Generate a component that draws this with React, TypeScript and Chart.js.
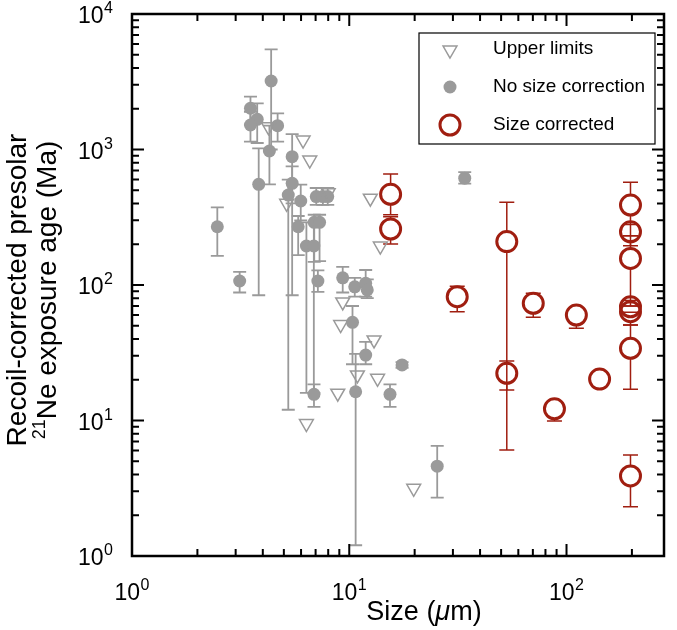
import React, { useEffect, useRef } from 'react';
import { Chart, registerables } from 'chart.js';
Chart.register(...registerables);

// ---- axes ----
const X_MIN = 1;
const X_MAX = 281;
const Y_MIN = 1;
const Y_MAX = 10000;
const X_TICKS = [1, 10, 100];
const X_TICK_EXP = ['0', '1', '2'];
const Y_TICKS = [1, 10, 100, 1000, 10000];
const Y_TICK_EXP = ['0', '1', '2', '3', '4'];
const X_TITLE_A = 'Size (';
const X_TITLE_MU = 'μ';
const X_TITLE_B = 'm)';
const Y_TITLE_1 = 'Recoil-corrected presolar';
const Y_TITLE_2_SUP = '21';
const Y_TITLE_2 = 'Ne exposure age (Ma)';
const LEGEND_LABELS = ['Upper limits', 'No size correction', 'Size corrected'];

// ---- Upper limits (open triangles) ----
const upperX = [4.25, 5.15, 6.13, 6.58, 8.0, 12.5, 13.9, 9.33, 9.13, 13.0, 10.9, 13.5, 8.85, 6.35, 19.8];
const upperY = [1470, 401, 1175, 836, 480, 437, 194, 75, 51, 39.3, 21.7, 20.5, 15.9, 9.5, 3.16];

// ---- No size correction (filled grey) ----
const nscX = [2.47, 3.13, 3.51, 3.77, 3.51, 3.83, 4.37, 4.29, 4.68, 5.46, 5.46, 5.24, 5.98, 5.82,
  6.35, 6.87, 7.05, 7.56, 7.96, 6.9, 7.3, 7.17, 9.33, 10.6, 11.9, 12.1, 10.35, 11.9, 10.7, 6.88,
  15.4, 17.5, 34, 25.4];
const nscY = [269, 107, 2015, 1670, 1517, 553, 3204, 975, 1500, 885, 563, 461, 417, 269,
  194, 194, 449, 449, 449, 290, 290, 107, 113, 97, 103, 92, 53, 30.4, 16.3, 15.6,
  15.6, 25.7, 614, 4.6];
const nscLo = [164, 88, 1520, 1117, 1143, 84, 1000, 553, 1143, 84, 400, 12, 300, 166,
  16, 16, 390, 390, 390, 148, 150, 89, 88, 82, 82, 80, 26, 26, 1.2, 12.6,
  12.6, 24.5, 560, 2.7];
const nscHi = [374, 125, 2455, 2193, 1900, 1020, 5490, 1500, 1850, 1300, 750, 600, 550, 323,
  290, 290, 520, 520, 520, 330, 330, 128, 136, 113, 129, 110, 70, 38, 31, 18.5,
  18.5, 27, 680, 6.5];

// ---- Size corrected (open red circles) ----
const scX = [15.5, 15.5, 31.4, 53.1, 53.1, 70.3, 111, 142, 88, 197, 197, 197, 197, 197, 197, 197];
const scY = [467, 259, 82, 209, 22.3, 73.3, 60, 20.2, 12.2, 389, 247, 157, 69, 63.5, 34.1, 3.9];
const scLo = [330, 201, 63.5, 6.06, 16.8, 57.8, 48, null, 9.9, 231, 195, 70, 63, 50.7, 17, 2.31];
const scHi = [659, 319, 98, 408, 27.5, 86.9, null, null, null, 573, 280, 231, 77, 70, 50.7, 5.56];

const GREY = '#9a9a9a';
const RED = '#a01e10';
const FONT = '"Liberation Sans", Arial, Helvetica, sans-serif';

function pts(xs: number[], ys: number[]) {
  return xs.map((x, i) => ({ x, y: ys[i] }));
}

const errorBarPlugin = {
  id: 'errorBars',
  beforeDatasetDraw(chart: any, args: any) {
    const ds = chart.data.datasets[args.index];
    if (!ds.errLo) return;
    const ctx = chart.ctx;
    const xs = chart.scales.x;
    const ys = chart.scales.y;
    ctx.save();
    ctx.strokeStyle = ds.errColor;
    ctx.lineWidth = ds.errWidth;
    const half = ds.capWidth / 2;
    const gap = ds.errGap;
    ds.data.forEach((p: any, i: number) => {
      const px = xs.getPixelForValue(p.x);
      const py = ys.getPixelForValue(p.y);
      const hi = ds.errHi[i];
      const lo = ds.errLo[i];
      ctx.beginPath();
      if (hi != null) {
        const ph = ys.getPixelForValue(hi);
        if (ph < py - gap) {
          ctx.moveTo(px, py - gap);
          ctx.lineTo(px, ph);
        }
        ctx.moveTo(px - half, ph);
        ctx.lineTo(px + half, ph);
      }
      if (lo != null) {
        const pl = ys.getPixelForValue(lo);
        if (pl > py + gap) {
          ctx.moveTo(px, py + gap);
          ctx.lineTo(px, pl);
        }
        ctx.moveTo(px - half, pl);
        ctx.lineTo(px + half, pl);
      }
      ctx.stroke();
    });
    ctx.restore();
  },
};

function drawPow(ctx: CanvasRenderingContext2D, exp: string, x: number, baseline: number, align: 'center' | 'right') {
  ctx.font = `23px ${FONT}`;
  const wb = ctx.measureText('10').width;
  ctx.font = `16px ${FONT}`;
  const we = ctx.measureText(exp).width;
  const total = wb + we + 0.5;
  const left = align === 'center' ? x - total / 2 : x - total;
  ctx.textAlign = 'left';
  ctx.textBaseline = 'alphabetic';
  ctx.font = `23px ${FONT}`;
  ctx.fillText('10', left, baseline);
  ctx.font = `16px ${FONT}`;
  ctx.fillText(exp, left + wb + 0.5, baseline - 10);
}

function drawTriangle(ctx: CanvasRenderingContext2D, x: number, y: number, r: number) {
  ctx.beginPath();
  for (let k = 0; k < 3; k++) {
    const a = Math.PI + (k * 2 * Math.PI) / 3;
    const vx = x + Math.sin(a) * r;
    const vy = y - Math.cos(a) * r;
    if (k === 0) ctx.moveTo(vx, vy);
    else ctx.lineTo(vx, vy);
  }
  ctx.closePath();
  ctx.stroke();
}

const framePlugin = {
  id: 'frameAxes',
  afterDraw(chart: any) {
    const ctx: CanvasRenderingContext2D = chart.ctx;
    const xs = chart.scales.x;
    const ys = chart.scales.y;
    const { left, right, top, bottom } = chart.chartArea;
    ctx.save();
    ctx.strokeStyle = '#000';
    ctx.fillStyle = '#000';
    // ticks
    ctx.lineWidth = 2;
    const MAJ = 12;
    const MIN = 7;
    ctx.beginPath();
    for (let d = 0; d <= 2; d++) {
      for (let k = 1; k <= 9; k++) {
        const v = k * Math.pow(10, d);
        if (v > X_MAX) continue;
        const px = xs.getPixelForValue(v);
        const len = k === 1 ? MAJ : MIN;
        ctx.moveTo(px, bottom);
        ctx.lineTo(px, bottom - len);
        ctx.moveTo(px, top);
        ctx.lineTo(px, top + len);
      }
    }
    for (let d = 0; d <= 3; d++) {
      for (let k = 1; k <= 9; k++) {
        const v = k * Math.pow(10, d);
        const py = ys.getPixelForValue(v);
        const len = k === 1 ? MAJ : MIN;
        ctx.moveTo(left, py);
        ctx.lineTo(left + len, py);
        ctx.moveTo(right, py);
        ctx.lineTo(right - len, py);
      }
    }
    ctx.stroke();
    // frame
    ctx.lineWidth = 2.5;
    ctx.strokeRect(left, top, right - left, bottom - top);

    // tick labels
    X_TICKS.forEach((v, i) => {
      drawPow(ctx, X_TICK_EXP[i], xs.getPixelForValue(v), bottom + 44, 'center');
    });
    Y_TICKS.forEach((v, i) => {
      drawPow(ctx, Y_TICK_EXP[i], left - 19, ys.getPixelForValue(v) + 9, 'right');
    });

    // x title
    ctx.textBaseline = 'alphabetic';
    ctx.textAlign = 'left';
    const TF = 27;
    ctx.font = `${TF}px ${FONT}`;
    const wA = ctx.measureText(X_TITLE_A).width;
    ctx.font = `italic ${TF}px ${FONT}`;
    const wM = ctx.measureText(X_TITLE_MU).width;
    ctx.font = `${TF}px ${FONT}`;
    const wB = ctx.measureText(X_TITLE_B).width;
    let tx = 424 - (wA + wM + wB) / 2;
    const ty = 620;
    ctx.fillText(X_TITLE_A, tx, ty);
    tx += wA;
    ctx.font = `italic ${TF}px ${FONT}`;
    ctx.fillText(X_TITLE_MU, tx, ty);
    tx += wM;
    ctx.font = `${TF}px ${FONT}`;
    ctx.fillText(X_TITLE_B, tx, ty);

    // y title
    const YF = 28;
    const cy = 290;
    ctx.save();
    ctx.translate(26, cy);
    ctx.rotate(-Math.PI / 2);
    ctx.textAlign = 'center';
    ctx.font = `${YF}px ${FONT}`;
    ctx.fillText(Y_TITLE_1, 0, 0);
    ctx.restore();

    ctx.save();
    ctx.translate(56, cy);
    ctx.rotate(-Math.PI / 2);
    ctx.textAlign = 'left';
    ctx.font = `18px ${FONT}`;
    const wS = ctx.measureText(Y_TITLE_2_SUP).width;
    ctx.font = `${YF}px ${FONT}`;
    const wT = ctx.measureText(Y_TITLE_2).width;
    const sx = -(wS + wT) / 2;
    ctx.font = `18px ${FONT}`;
    ctx.fillText(Y_TITLE_2_SUP, sx, -11);
    ctx.font = `${YF}px ${FONT}`;
    ctx.fillText(Y_TITLE_2, sx + wS, 0);
    ctx.restore();

    // legend
    const lx0 = 419, ly0 = 33, lx1 = 655, ly1 = 144;
    ctx.fillStyle = '#fff';
    ctx.fillRect(lx0, ly0, lx1 - lx0, ly1 - ly0);
    ctx.strokeStyle = '#000';
    ctx.lineWidth = 1.2;
    ctx.strokeRect(lx0, ly0, lx1 - lx0, ly1 - ly0);
    const rows = [49, 87, 125];
    const mx = 450;
    ctx.strokeStyle = GREY;
    ctx.lineWidth = 1.5;
    drawTriangle(ctx, mx, rows[0] + 1, 8);
    ctx.fillStyle = GREY;
    ctx.beginPath();
    ctx.arc(mx, rows[1], 6.5, 0, Math.PI * 2);
    ctx.fill();
    ctx.strokeStyle = RED;
    ctx.lineWidth = 3;
    ctx.beginPath();
    ctx.arc(mx, rows[2], 10, 0, Math.PI * 2);
    ctx.stroke();
    ctx.fillStyle = '#000';
    ctx.font = `19px ${FONT}`;
    ctx.textAlign = 'left';
    ctx.textBaseline = 'middle';
    LEGEND_LABELS.forEach((t, i) => ctx.fillText(t, 493, rows[i]));
    ctx.restore();
  },
};

export default function App() {
  const ref = useRef<HTMLCanvasElement>(null);
  useEffect(() => {
    if (!ref.current) return;
    const chart = new Chart(ref.current, {
      type: 'scatter',
      data: {
        datasets: [
          {
            label: LEGEND_LABELS[0],
            data: pts(upperX, upperY),
            pointStyle: 'triangle',
            rotation: 180,
            radius: 8,
            borderColor: GREY,
            backgroundColor: 'rgba(0,0,0,0)',
            borderWidth: 1.5,
          } as any,
          {
            label: LEGEND_LABELS[1],
            data: pts(nscX, nscY),
            pointStyle: 'circle',
            radius: 6.5,
            borderWidth: 0,
            backgroundColor: GREY,
            borderColor: GREY,
            errLo: nscLo,
            errHi: nscHi,
            errColor: GREY,
            errWidth: 1.8,
            capWidth: 13,
            errGap: 0,
          } as any,
          {
            label: LEGEND_LABELS[2],
            data: pts(scX, scY),
            pointStyle: 'circle',
            radius: 10,
            borderWidth: 3,
            borderColor: RED,
            backgroundColor: 'rgba(0,0,0,0)',
            errLo: scLo,
            errHi: scHi,
            errColor: RED,
            errWidth: 1.5,
            capWidth: 15,
            errGap: 10,
          } as any,
        ],
      },
      options: {
        responsive: false,
        animation: false,
        events: [],
        layout: { padding: { left: 132, top: 14, right: 7, bottom: 74 } },
        plugins: { legend: { display: false }, tooltip: { enabled: false } },
        scales: {
          x: { type: 'logarithmic', min: X_MIN, max: X_MAX, display: false },
          y: { type: 'logarithmic', min: Y_MIN, max: Y_MAX, display: false },
        },
      },
      plugins: [errorBarPlugin, framePlugin],
    });
    return () => chart.destroy();
  }, []);
  return (
    <div style={{ position: 'fixed', left: 0, top: 0, width: 677, height: 630, background: '#fff' }}>
      <canvas ref={ref} width={677} height={630} style={{ display: 'block' }} />
    </div>
  );
}
